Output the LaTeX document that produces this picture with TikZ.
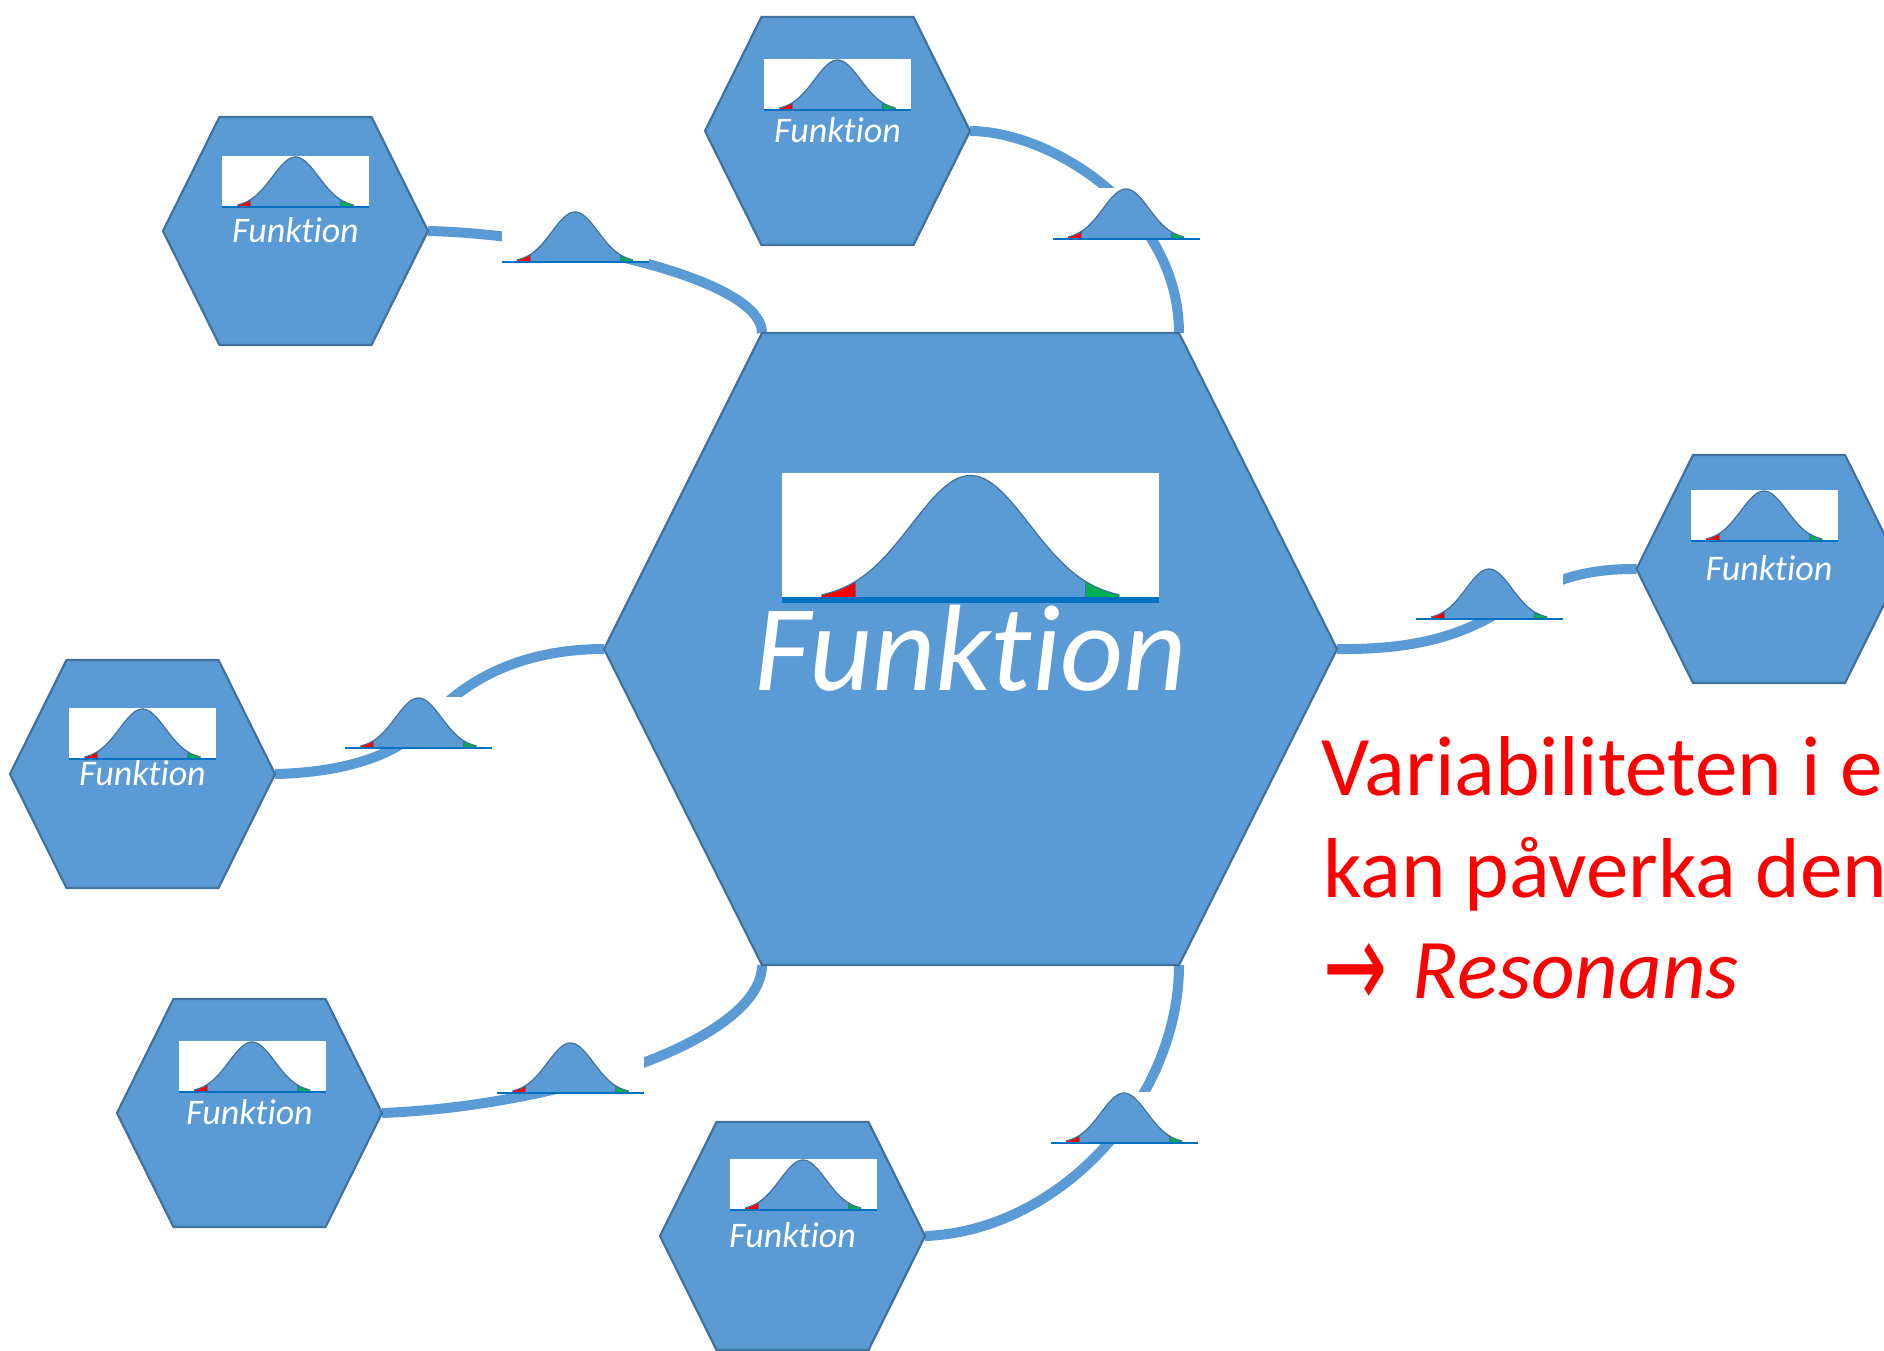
\documentclass[tikz,border=0pt]{standalone}
\usepackage{fontspec}
\setmainfont{Carlito}[Ligatures={NoCommon}]
\newfontfamily\arrowfont{DejaVu Sans}
\usetikzlibrary{backgrounds}

\definecolor{hexfill}{HTML}{5B9BD5}
\definecolor{hexedge}{HTML}{41719C}
\definecolor{axisblue}{HTML}{0070C0}
\definecolor{tailred}{HTML}{FF0000}
\definecolor{tailgreen}{HTML}{00B050}
\definecolor{notered}{HTML}{FF0000}

% hexagon outline with named corners: half width, half top width, half height
\newcommand\hexagonpic[3]{%
  \path[hexshape] (-#1,0) -- (-#2,-#3) -- (#2,-#3) -- (#1,0) -- (#2,#3) -- (-#2,#3) -- cycle;
  \coordinate (-w) at (-#1,0);
  \coordinate (-e) at (#1,0);
  \coordinate (-nw) at (-#2,-#3);
  \coordinate (-ne) at (#2,-#3);
  \coordinate (-sw) at (-#2,#3);
  \coordinate (-se) at (#2,#3);
  \coordinate (-c) at (0,0);
}

\tikzset{
  conn/.style={draw=hexfill, line width=10pt},
  hexshape/.style={fill=hexfill, draw=hexedge, line width=2.2pt, line join=miter},
  smalllabel/.style={text=white, font=\fontsize{36}{43}\selectfont\itshape, anchor=base, inner sep=0pt},
  biglabel/.style={text=white, font=\fontsize{123}{148}\selectfont\itshape, anchor=base, inner sep=0pt},
  redtext/.style={text=notered, font=\fontsize{85}{102}\selectfont, anchor=base west, inner sep=0pt},
  % normal distribution chart: white card, bell, red and green tails, axis
  bell/.pic={
    \fill[white] (-73.5,-51) rectangle (73.5,1.2);
    \fill[hexfill] (-58,0) -- plot[domain=-58:58, samples=90] (\x,{-50*exp(-0.5*(\x/23)*(\x/23))}) -- (58,0) -- cycle;
    \fill[tailred] (-58,0) -- plot[domain=-58:-45, samples=12] (\x,{-50*exp(-0.5*(\x/23)*(\x/23))}) -- (-45,0) -- cycle;
    \fill[tailgreen] (45,0) -- plot[domain=45:58, samples=12] (\x,{-50*exp(-0.5*(\x/23)*(\x/23))}) -- (58,0) -- cycle;
    \draw[hexedge, line width=0.9pt] (-45,0) -- (-45,{-50*exp(-0.5*(45/23)*(45/23))});
    \draw[hexedge, line width=0.9pt] (45,0) -- (45,{-50*exp(-0.5*(45/23)*(45/23))});
    \draw[hexedge, line width=1.2pt] plot[domain=-58:58, samples=90] (\x,{-50*exp(-0.5*(\x/23)*(\x/23))});
    \draw[axisblue, line width=#1] (-73.5,0) -- (73.5,0);
  },
  smallhex/.pic={
    \hexagonpic{132.5}{76}{114}
    \node[smalllabel] (-label) at (0,11) {Funktion};
  },
  bighex/.pic={
    \hexagonpic{366.5}{208.5}{316}
    \node[biglabel] (-label) at (0,41) {Funktion};
  },
}

\begin{document}
\begin{tikzpicture}[x=1pt, y=-1pt]
\useasboundingbox (0,0) rectangle (1884,1350);
\clip (0,0) rectangle (1884,1350);

% central function
\pic (M) at (970.5,649) {bighex};
\pic[xscale=2.565, yscale=2.49] (Mchart) at (970.5,600) {bell=6pt};

% coupled functions
\pic (A) at (295.5,231) {smallhex};
\pic (Achart) at (295.5,207) {bell=2.3pt};
\pic (B) at (837.5,131) {smallhex};
\pic (Bchart) at (837.5,110) {bell=2.3pt};
\pic (C) at (1769,569) {smallhex};
\pic (Cchart) at (1764,541) {bell=2.3pt};
\pic (D) at (142.5,774) {smallhex};
\pic (Dchart) at (142.5,759) {bell=2.3pt};
\pic (E) at (249.5,1113) {smallhex};
\pic (Echart) at (252,1092) {bell=2.3pt};
\pic (F) at (792.5,1236) {smallhex};
\pic (Fchart) at (803,1210) {bell=2.3pt};

% couplings
\coordinate (k4) at (428,722);
\begin{scope}[on background layer]
  \draw[conn] (A-e) .. controls +(112,2) and +(0,-58) .. (M-nw);
  \draw[conn] (B-e) .. controls +(80,0) and +(0,-123) .. (M-ne);
  \draw[conn] (M-e) .. controls +(183,2) and +(-137,-1) .. (C-w);
  \draw[conn] (D-e) .. controls +(85,-2) and +(-23,26) .. (k4)
                    .. controls +(27,-32) and +(-95,0) .. (M-w);
  \draw[conn] (E-e) .. controls +(178,-7) and +(0,75) .. (M-sw);
  \draw[conn] (M-se) .. controls +(0,135) and +(135,-5) .. (F-e);
\end{scope}

% variability passed along each coupling
\pic (b1) at (575,262) {bell=2.3pt};
\pic (b2) at (1126,239) {bell=2.3pt};
\pic (b3) at (1489,619) {bell=2.3pt};
\pic (b4) at (418.5,748) {bell=2.3pt};
\pic (b5) at (570.5,1093) {bell=2.3pt};
\pic (b6) at (1124,1143) {bell=2.3pt};

% note
\node[redtext] (note1) at (1321,795) {Variabiliteten i e};
\node[redtext] (note2) at (1323,897) {kan påverka den};
\node[redtext] (note3) at (1323,998) {{\arrowfont\raisebox{-10pt}{\scalebox{0.9}[1.45]{→}}}\hspace{0.3em}\textit{Resonans}};
\end{tikzpicture}
\end{document}
